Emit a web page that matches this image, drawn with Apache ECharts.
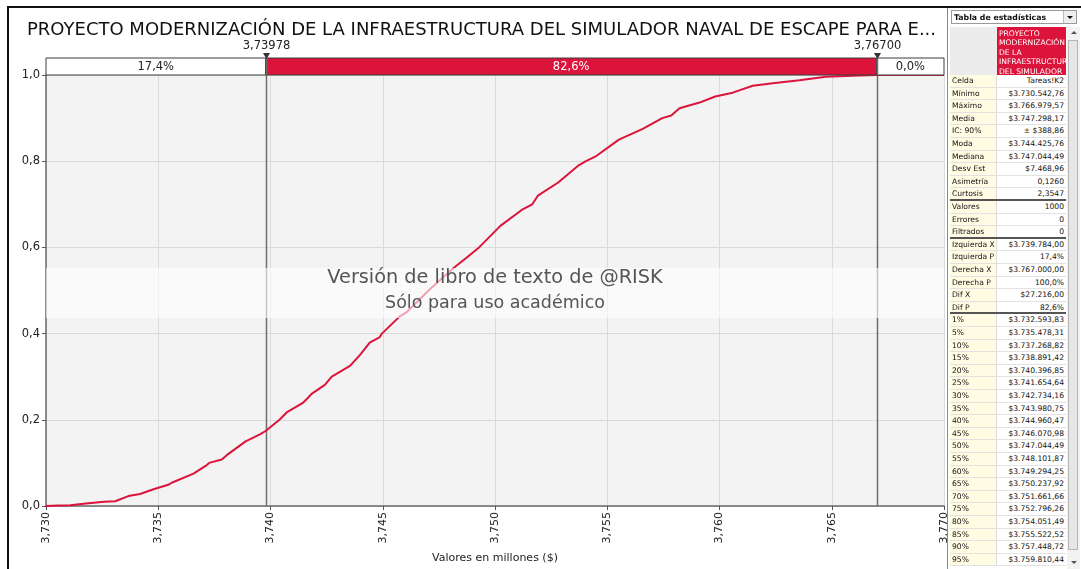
<!DOCTYPE html>
<html>
<head>
<meta charset="utf-8">
<script src="https://cdn.jsdelivr.net/npm/echarts@6/dist/echarts.min.js"></script>
<style>
  html, body { margin:0; padding:0; background:#fff; }
  #wrap { position:relative; width:1081px; height:569px; overflow:hidden; background:#fff; }
  #chart { position:absolute; left:0; top:0; width:1081px; height:569px; }
  .frameTop { position:absolute; left:7px; top:6px; width:1074px; height:2px; background:#111; }
  .frameLeft { position:absolute; left:7px; top:6px; width:2px; height:563px; background:#111; }
  .frameMid { position:absolute; left:947px; top:8px; width:1px; height:561px; background:#888; }
  #panel { position:absolute; left:948px; top:8px; width:133px; height:561px; font-family:"DejaVu Sans", sans-serif; font-size:7.6px; color:#111; }
  .dd { position:absolute; left:3px; top:2px; width:126px; height:14px; border:1px solid #9a9a9a; background:#fff; box-sizing:border-box; }
  .dd span { position:absolute; left:2px; top:1px; font-weight:bold; font-size:7.8px; line-height:11px; }
  .dd i { position:absolute; right:0; top:0; width:12px; height:12px; border-left:1px solid #bbb; background:#eee; }
  .dd i:after { content:""; position:absolute; left:3px; top:5px; border-left:3px solid transparent; border-right:3px solid transparent; border-top:3px solid #111; }
  .row { position:absolute; left:2px; width:116px; height:12.6px; border-bottom:1px solid #e2e2e2; box-sizing:border-box; }
  .lab { position:absolute; left:0; top:0; width:47px; height:100%; background:#fffce3; padding-left:2px; box-sizing:border-box; line-height:11.6px; white-space:nowrap; overflow:hidden; border-right:1px solid #ddd; }
  .val { position:absolute; left:47px; top:0; width:69px; height:100%; background:#fff; padding-right:2px; box-sizing:border-box; line-height:11.6px; text-align:right; white-space:nowrap; }
  .sep { border-bottom:2px solid #555; }
  .hdrL { position:absolute; left:2px; top:19px; width:47px; height:48px; background:#ececec; }
  .hdrR { position:absolute; left:49px; top:19px; width:69px; height:48px; background:#dc143c; color:#fff; font-size:7.6px; line-height:9.4px; padding:2px 0 0 2px; box-sizing:border-box; overflow:hidden; white-space:nowrap; }
  .sb { position:absolute; left:119px; top:19px; width:13px; height:542px; background:#f2f2f2; }
  .sbthumb { position:absolute; left:1px; top:13px; width:10px; height:510px; background:#e6e6e6; border:1px solid #b5b5b5; box-sizing:border-box; }
  .arrU { position:absolute; left:4px; top:4px; border-left:3px solid transparent; border-right:3px solid transparent; border-bottom:3px solid #555; }
  .arrD { position:absolute; left:4px; top:534px; border-left:3px solid transparent; border-right:3px solid transparent; border-top:3px solid #555; }
</style>
</head>
<body>
<div id="wrap">
  <div id="chart"></div>
  <div class="frameTop"></div>
  <div class="frameLeft"></div>
  <div class="frameMid"></div>
  <div id="panel"></div>
</div>
<script>
// ---------------- DATA ----------------
const chartTitle = 'PROYECTO MODERNIZACIÓN DE LA INFRAESTRUCTURA DEL SIMULADOR NAVAL DE ESCAPE PARA E...';
const xAxisName = 'Valores en millones ($)';
const xMin = 3.730, xMax = 3.770, xStep = 0.005;
const yMin = 0, yMax = 1, yStep = 0.2;

// cumulative curve (value in millions, cumulative probability)
const cdfValues = [3.73000,3.73054,3.73108,3.73167,3.73259,3.73308,3.73367,3.73419,3.73479,3.73548,3.73560,3.73657,3.73716,3.73727,3.73783,3.73805,3.73889,3.73953,3.73978,3.74040,3.74072,3.74146,3.74165,3.74183,3.74242,3.74273,3.74354,3.74398,3.74442,3.74487,3.74496,3.74576,3.74607,3.74704,3.74810,3.74873,3.74929,3.75024,3.75125,3.75166,3.75191,3.75280,3.75369,3.75405,3.75451,3.75552,3.75658,3.75745,3.75785,3.75822,3.75911,3.75981,3.76059,3.76148,3.76237,3.76356,3.76474,3.76593,3.76698,3.77000];
const cdfProbs  = [0.000,0.001,0.002,0.005,0.010,0.011,0.023,0.028,0.039,0.050,0.054,0.075,0.095,0.100,0.108,0.118,0.150,0.166,0.174,0.200,0.217,0.240,0.250,0.260,0.281,0.300,0.325,0.350,0.379,0.392,0.400,0.440,0.450,0.500,0.550,0.576,0.600,0.650,0.689,0.700,0.720,0.750,0.789,0.800,0.812,0.850,0.875,0.900,0.906,0.923,0.936,0.950,0.959,0.975,0.981,0.988,0.996,0.998,1.000,1.000];

// delimiters of the top probability bar
const delimiters = [3.73978, 3.767];
const delimiterLabels = ['3,73978', '3,76700'];
const segmentLabels = ['17,4%', '82,6%', '0,0%'];

const watermarkLines = ['Versión de libro de texto de @RISK', 'Sólo para uso académico'];

// statistics table
const panelTitle = 'Tabla de estadísticas';
const headerLines = ['PROYECTO', 'MODERNIZACIÓN', 'DE LA', 'INFRAESTRUCTURA', 'DEL SIMULADOR'];
const statLabels = ['Celda','Mínimo','Máximo','Media','IC: 90%','Moda','Mediana','Desv Est','Asimetría','Curtosis','Valores','Errores','Filtrados','Izquierda X','Izquierda P','Derecha X','Derecha P','Dif X','Dif P','1%','5%','10%','15%','20%','25%','30%','35%','40%','45%','50%','55%','60%','65%','70%','75%','80%','85%','90%','95%'];
const statValues = ['Tareas!K2','$3.730.542,76','$3.766.979,57','$3.747.298,17','± $388,86','$3.744.425,76','$3.747.044,49','$7.468,96','0,1260','2,3547','1000','0','0','$3.739.784,00','17,4%','$3.767.000,00','100,0%','$27.216,00','82,6%','$3.732.593,83','$3.735.478,31','$3.737.268,82','$3.738.891,42','$3.740.396,85','$3.741.654,64','$3.742.734,16','$3.743.980,75','$3.744.960,47','$3.746.070,98','$3.747.044,49','$3.748.101,87','$3.749.294,25','$3.750.237,92','$3.751.661,66','$3.752.796,26','$3.754.051,49','$3.755.522,52','$3.757.448,72','$3.759.810,44'];
const sepAfter = ['Curtosis', 'Filtrados', 'Dif P'];

// ---------------- PANEL ----------------
(function buildPanel(){
  const p = document.getElementById('panel');
  let html = '<div class="dd"><span>' + panelTitle + '</span><i></i></div>';
  html += '<div class="hdrL"></div><div class="hdrR">' + headerLines.join('<br>') + '</div>';
  statLabels.forEach((l, i) => {
    const top = 67 + i * 12.6;
    const cls = sepAfter.indexOf(l) >= 0 ? 'row sep' : 'row';
    html += '<div class="' + cls + '" style="top:' + top + 'px"><div class="lab">' + l + '</div><div class="val">' + statValues[i] + '</div></div>';
  });
  html += '<div class="sb"><div class="arrU"></div><div class="sbthumb"></div><div class="arrD"></div></div>';
  p.innerHTML = html;
})();

// ---------------- CHART ----------------
const FONT = 'DejaVu Sans';
const fmt = (d) => (v) => v.toFixed(d).replace('.', ',');
const chart = echarts.init(document.getElementById('chart'), null, {renderer: 'canvas'});

const segData = [];
const bounds = [xMin].concat(delimiters).concat([xMax]);
for (let i = 0; i < segmentLabels.length; i++) segData.push([bounds[i], bounds[i + 1], i]);

const plotLeft = 46, plotWidth = 898;
const plotCenter = plotLeft + plotWidth / 2;

const option = {
  animation: false,
  title: {
    text: chartTitle, left: 22, top: 16,
    textStyle: {fontFamily: FONT, fontSize: 18, fontWeight: 'normal', color: '#111'}
  },
  grid: [
    {left: plotLeft, top: 75, width: plotWidth, height: 436, show: true, backgroundColor: '#f3f3f3', borderWidth: 0},
    {left: plotLeft, top: 58, width: plotWidth, height: 17, show: false}
  ],
  xAxis: [
    {
      type: 'value', gridIndex: 0, min: xMin, max: xMax, interval: xStep,
      name: xAxisName, nameLocation: 'middle', nameGap: 47,
      nameTextStyle: {fontFamily: FONT, fontSize: 11, color: '#222'},
      axisLine: {show: true, lineStyle: {color: '#6a6a6a', width: 1.5}},
      axisTick: {show: true, length: 4, lineStyle: {color: '#555'}},
      axisLabel: {rotate: 90, margin: 6, formatter: fmt(3), fontFamily: FONT, fontSize: 11, color: '#222'},
      splitLine: {show: true, lineStyle: {color: '#dadada', width: 1}}
    },
    {type: 'value', gridIndex: 1, min: xMin, max: xMax, show: false}
  ],
  yAxis: [
    {
      type: 'value', gridIndex: 0, min: yMin, max: yMax, interval: yStep,
      axisLine: {show: true, lineStyle: {color: '#6a6a6a', width: 1.5}},
      axisTick: {show: true, length: 4, lineStyle: {color: '#555'}},
      axisLabel: {formatter: fmt(1), fontFamily: FONT, fontSize: 11.5, color: '#222', margin: 6},
      splitLine: {show: true, lineStyle: {color: '#dadada', width: 1}}
    },
    {type: 'value', gridIndex: 1, min: 0, max: 1, show: false}
  ],
  series: [
    {
      type: 'line', xAxisIndex: 0, yAxisIndex: 0,
      data: cdfValues.map((v, i) => [v, cdfProbs[i]]),
      showSymbol: false, symbol: 'none',
      lineStyle: {color: '#dc143c', width: 2},
      z: 3
    },
    {
      // delimiter lines through the plot
      type: 'custom', xAxisIndex: 0, yAxisIndex: 0, clip: false, z: 2,
      data: delimiters.map((d, i) => [d, i]),
      renderItem: function (params, api) {
        const top = api.coord([api.value(0), yMax]);
        const bot = api.coord([api.value(0), yMin]);
        const x = Math.round(top[0]) + 0.5;
        return {type: 'line', shape: {x1: x, y1: top[1], x2: x, y2: bot[1]}, style: {stroke: '#6e6e6e', lineWidth: 1.5}};
      }
    },
    {
      type: 'custom', xAxisIndex: 1, yAxisIndex: 1, clip: false, z: 5,
      data: segData,
      renderItem: function (params, api) {
        const i = api.value(2);
        const p0 = api.coord([api.value(0), 1]);
        const p1 = api.coord([api.value(1), 0]);
        const w = p1[0] - p0[0], h = p1[1] - p0[1];
        const mid = i === 1;
        return {
          type: 'group', children: [
            {type: 'rect', shape: {x: p0[0], y: p0[1], width: w, height: h},
             style: {fill: mid ? '#dc143c' : '#ffffff', stroke: '#3c3c3c', lineWidth: 1}},
            {type: 'text', style: {text: segmentLabels[i], x: p0[0] + w / 2, y: p0[1] + h / 2 + 0.5,
             align: 'center', verticalAlign: 'middle', fill: mid ? '#ffffff' : '#222', font: '11.5px "DejaVu Sans"'}}
          ]
        };
      }
    },
    {
      type: 'custom', xAxisIndex: 1, yAxisIndex: 1, clip: false, z: 6,
      data: delimiters.map((d, i) => [d, i]),
      renderItem: function (params, api) {
        const i = api.value(1);
        const p = api.coord([api.value(0), 1]);
        const x = Math.round(p[0]) + 0.5, y = p[1];
        return {
          type: 'group', children: [
            {type: 'line', shape: {x1: x, y1: y, x2: x, y2: y + 17}, style: {stroke: '#6e6e6e', lineWidth: 1.5}},
            {type: 'polygon', shape: {points: [[x - 3.5, y - 5], [x + 3.5, y - 5], [x, y + 1]]}, style: {fill: '#333'}},
            {type: 'text', style: {text: delimiterLabels[i], x: x, y: y - 6, align: 'center', verticalAlign: 'bottom',
             fill: '#222', font: '11.5px "DejaVu Sans"'}}
          ]
        };
      }
    }
  ],
  graphic: [
    {type: 'rect', left: plotLeft, top: 268, z: 100, shape: {width: plotWidth, height: 50}, style: {fill: 'rgba(255,255,255,0.6)'}},
    {type: 'text', x: plotCenter, y: 268, z: 101, style: {text: watermarkLines[0], align: 'center', fill: '#555', font: '19.3px "DejaVu Sans"'}},
    {type: 'text', x: plotCenter, y: 294, z: 101, style: {text: watermarkLines[1], align: 'center', fill: '#555', font: '17.5px "DejaVu Sans"'}}
  ]
};
chart.setOption(option);
</script>
</body>
</html>
